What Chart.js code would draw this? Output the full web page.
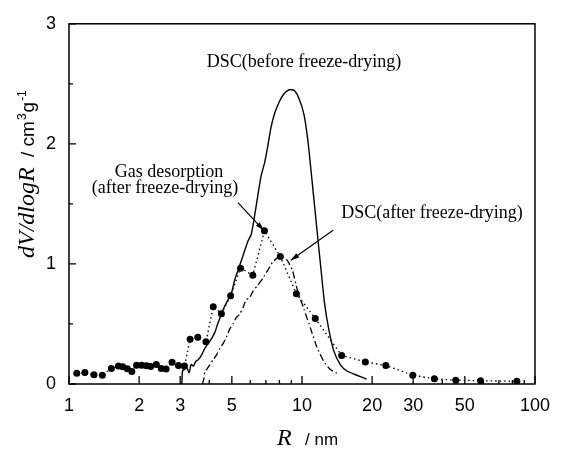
<!DOCTYPE html>
<html>
<head>
<meta charset="utf-8">
<script src="https://cdn.jsdelivr.net/npm/chart.js@4"></script>
<style>
    html, body { margin: 0; padding: 0; background: #fff; }
    #wrap { width: 561px; height: 450px; }
</style>
</head>
<body>
<div id="wrap"><canvas id="poreChart" width="561" height="450"></canvas></div>
<script>
// Gas desorption (after freeze-drying), dotted line with dots
const gasR = [1.08, 1.17, 1.28, 1.39, 1.52, 1.63, 1.70, 1.78, 1.86, 1.95, 2.05, 2.15, 2.24, 2.37, 2.49, 2.61, 2.77, 2.95, 3.13,
    3.31, 3.57, 3.87, 4.16, 4.51, 4.94, 5.45, 6.15, 6.90, 8.07, 9.46, 11.4, 14.8, 18.7, 22.9, 29.9, 37.0, 45.7, 58.4, 83.6];
const gasV = [0.089, 0.095, 0.076, 0.073, 0.130, 0.149, 0.143, 0.127, 0.105, 0.157, 0.157, 0.151, 0.146, 0.162, 0.130, 0.124, 0.181, 0.154, 0.149,
    0.373, 0.389, 0.351, 0.643, 0.586, 0.735, 0.965, 0.905, 1.276, 1.062, 0.751, 0.546, 0.238, 0.184, 0.154, 0.073, 0.043, 0.032, 0.027, 0.022];

// DSC before freeze-drying, solid line
const dscBeforeR = [3.05, 3.07, 3.13, 3.20, 3.28, 3.34, 3.42, 3.50, 3.59, 3.71, 3.83, 3.96, 4.09, 4.23, 4.37, 4.51, 4.66, 4.82, 4.98,
    5.14, 5.31, 5.49, 5.67, 5.86, 6.05, 6.25, 6.46, 6.67, 6.90, 7.12, 7.36, 7.60, 7.99, 8.39, 8.81, 9.25, 9.71, 10.2, 10.6,
    10.96, 11.32, 11.69, 12.08, 12.49, 13.02, 13.68, 14.6, 15.6, 17.2, 18.95];
const dscBeforeV = [0, 0.108, 0.122, 0.135, 0.095, 0.162, 0.149, 0.189, 0.203, 0.243, 0.297, 0.338, 0.378, 0.432, 0.514, 0.581, 0.649, 0.703, 0.757,
    0.865, 0.946, 1.027, 1.108, 1.189, 1.243, 1.392, 1.568, 1.730, 1.838, 1.973, 2.135, 2.243, 2.351, 2.419, 2.451, 2.446, 2.378, 2.243, 2.027,
    1.757, 1.486, 1.216, 0.946, 0.676, 0.459, 0.278, 0.162, 0.108, 0.073, 0.041];

// DSC after freeze-drying, dash-dot line
const dscAfterR = [3.74, 3.80, 3.83, 3.90, 4.03, 4.16, 4.30, 4.44, 4.59, 4.74, 4.90, 5.06, 5.23, 5.40, 5.58, 5.76, 5.95, 6.15,
    6.46, 6.78, 7.12, 7.48, 7.86, 8.17, 8.66, 9.10, 9.55, 10.2, 10.9, 11.6, 12.4, 13.2, 14.4];
const dscAfterV = [0, 0.054, 0.108, 0.122, 0.162, 0.203, 0.243, 0.297, 0.338, 0.392, 0.459, 0.500, 0.554, 0.581, 0.635, 0.703, 0.716, 0.770,
    0.824, 0.878, 0.946, 1.014, 1.054, 1.068, 1.027, 0.946, 0.784, 0.622, 0.459, 0.305, 0.189, 0.122, 0.081];

// Axis ticks
const xTickLabels = [1, 2, 3, 5, 10, 20, 30, 50, 100];
const xMinorTicks = [4, 6, 7, 8, 9, 40, 60, 70, 80, 90];
const yTickLabels = [0, 1, 2, 3];
const yMinorTicks = [0.5, 1.5, 2.5];

// Labels and arrows (arrow ends given in data units)
const annotations = [
    { text: 'DSC(before freeze-drying)', x: 304, y: 67 },
    { text: 'Gas desorption', x: 169, y: 177 },
    { text: '(after freeze-drying)', x: 165, y: 193 },
    { text: 'DSC(after freeze-drying)', x: 432, y: 218 }
];
const arrows = [
    { from: [5.31, 1.51], to: [6.85, 1.28] },
    { from: [13.6, 1.28], to: [8.95, 1.03] }
];

const SERIF = '"Liberation Serif", "DejaVu Serif", serif';
const SANS = '"Liberation Sans", Arial, sans-serif';

function toPoints(xs, ys) {
    return xs.map((r, i) => ({ x: r, y: ys[i] }));
}

const framePlugin = {
    id: 'frame',
    afterDraw(chart) {
        const { ctx, chartArea: area, scales: { x, y } } = chart;
        ctx.save();
        ctx.strokeStyle = '#000';
        ctx.lineWidth = 1.5;
        ctx.strokeRect(area.left, area.top, area.right - area.left, area.bottom - area.top);

        // inward tick marks
        ctx.lineWidth = 1.3;
        ctx.beginPath();
        xTickLabels.forEach(v => {
            const px = x.getPixelForValue(v);
            ctx.moveTo(px, area.bottom); ctx.lineTo(px, area.bottom - 8);
        });
        xMinorTicks.forEach(v => {
            const px = x.getPixelForValue(v);
            ctx.moveTo(px, area.bottom); ctx.lineTo(px, area.bottom - 4);
        });
        yTickLabels.forEach(v => {
            const py = y.getPixelForValue(v);
            ctx.moveTo(area.left, py); ctx.lineTo(area.left + 7, py);
        });
        yMinorTicks.forEach(v => {
            const py = y.getPixelForValue(v);
            ctx.moveTo(area.left, py); ctx.lineTo(area.left + 4, py);
        });
        ctx.stroke();

        // annotation texts
        ctx.fillStyle = '#000';
        ctx.font = '18px ' + SERIF;
        ctx.textAlign = 'center';
        ctx.textBaseline = 'alphabetic';
        annotations.forEach(a => ctx.fillText(a.text, a.x, a.y));

        // arrows
        ctx.lineWidth = 1.2;
        arrows.forEach(a => {
            const x0 = x.getPixelForValue(a.from[0]), y0 = y.getPixelForValue(a.from[1]);
            const x1 = x.getPixelForValue(a.to[0]), y1 = y.getPixelForValue(a.to[1]);
            ctx.beginPath();
            ctx.moveTo(x0, y0); ctx.lineTo(x1, y1);
            ctx.stroke();
            const ang = Math.atan2(y1 - y0, x1 - x0);
            ctx.beginPath();
            ctx.moveTo(x1, y1);
            ctx.lineTo(x1 - 9 * Math.cos(ang - 0.3), y1 - 9 * Math.sin(ang - 0.3));
            ctx.lineTo(x1 - 9 * Math.cos(ang + 0.3), y1 - 9 * Math.sin(ang + 0.3));
            ctx.closePath();
            ctx.fill();
        });

        // x title
        ctx.textAlign = 'left';
        ctx.font = 'italic 24px ' + SERIF;
        ctx.fillText('R', 277, 445);
        ctx.font = '17px ' + SANS;
        ctx.fillText('/ nm', 305, 445);

        // y title
        ctx.translate(34, 258);
        ctx.rotate(-Math.PI / 2);
        ctx.font = 'italic 24px ' + SERIF;
        ctx.fillText('dV/dlogR', 0, 0);
        let cx = 101;
        ctx.font = '19px ' + SANS;
        ctx.fillText('/ cm', cx, 0);
        cx += ctx.measureText('/ cm').width + 1;
        ctx.font = '12px ' + SANS;
        ctx.fillText('3', cx, -8);
        cx += ctx.measureText('3').width + 1;
        ctx.font = '19px ' + SANS;
        ctx.fillText('g', cx, 0);
        cx += ctx.measureText('g').width + 1;
        ctx.font = '12px ' + SANS;
        ctx.fillText('-1', cx, -8);
        ctx.restore();
    }
};

document.addEventListener('DOMContentLoaded', function() {
    const ctx = document.getElementById('poreChart').getContext('2d');
    new Chart(ctx, {
        type: 'scatter',
        data: {
            datasets: [{
                label: 'Gas desorption (after freeze-drying)',
                data: toPoints(gasR, gasV),
                showLine: true,
                borderColor: '#000',
                borderWidth: 1.3,
                borderDash: [1.5, 3],
                pointRadius: 3.5,
                pointBackgroundColor: '#000',
                pointBorderWidth: 0
            }, {
                label: 'DSC(before freeze-drying)',
                data: toPoints(dscBeforeR, dscBeforeV),
                showLine: true,
                borderColor: '#000',
                borderWidth: 1.4,
                pointRadius: 0,
                tension: 0.2
            }, {
                label: 'DSC(after freeze-drying)',
                data: toPoints(dscAfterR, dscAfterV),
                showLine: true,
                borderColor: '#000',
                borderWidth: 1.3,
                borderDash: [7, 3, 1.5, 3],
                pointRadius: 0,
                tension: 0.2
            }]
        },
        options: {
            responsive: false,
            devicePixelRatio: 1,
            animation: false,
            layout: { padding: { left: 0, top: 14, right: 21, bottom: 0 } },
            plugins: {
                legend: { display: false },
                tooltip: { enabled: false }
            },
            scales: {
                x: {
                    type: 'logarithmic',
                    min: 1,
                    max: 100,
                    afterBuildTicks: scale => { scale.ticks = xTickLabels.map(v => ({ value: v })); },
                    afterFit: scale => { scale.height = 66; },
                    grid: { display: false, drawTicks: false },
                    border: { display: false },
                    ticks: {
                        color: '#000',
                        padding: 11,
                        maxRotation: 0,
                        autoSkip: false,
                        font: { family: SANS, size: 18 },
                        callback: v => String(v)
                    }
                },
                y: {
                    min: 0,
                    max: 3,
                    afterBuildTicks: scale => { scale.ticks = yTickLabels.map(v => ({ value: v })); },
                    afterFit: scale => { scale.width = 69; },
                    grid: { display: false, drawTicks: false },
                    border: { display: false },
                    ticks: {
                        color: '#000',
                        padding: 13,
                        font: { family: SANS, size: 18 },
                        callback: v => String(v)
                    }
                }
            }
        },
        plugins: [framePlugin]
    });
});
</script>
</body>
</html>
